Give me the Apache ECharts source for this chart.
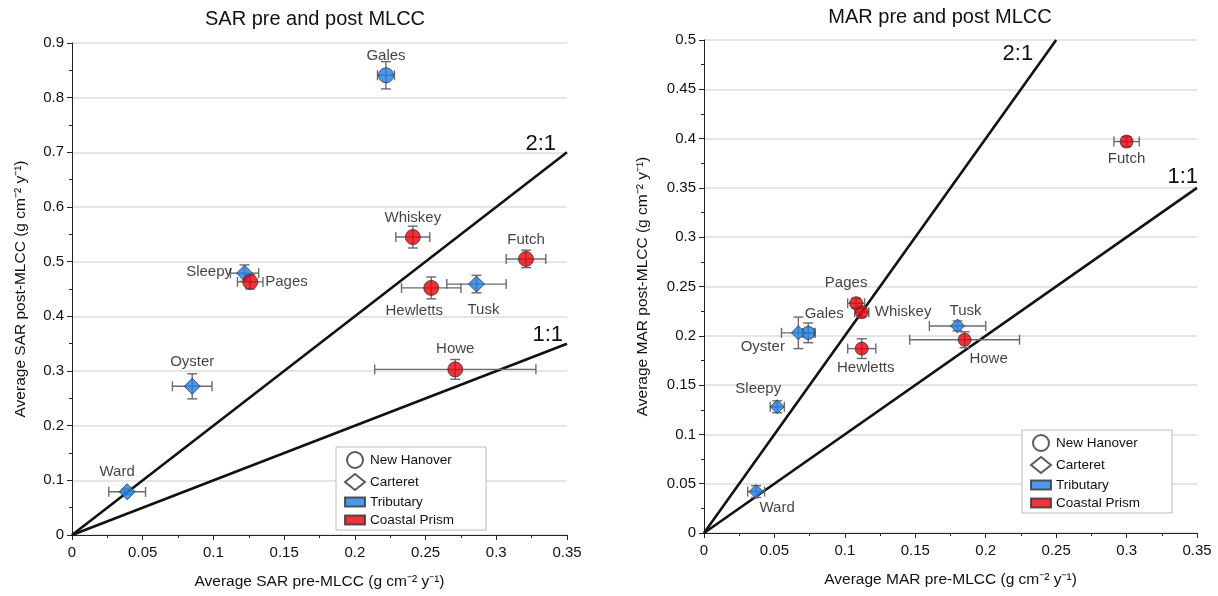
<!DOCTYPE html>
<html>
<head>
<meta charset="utf-8">
<script src="https://cdn.jsdelivr.net/npm/echarts@6/dist/echarts.min.js"></script>
<style>
  html, body { margin: 0; background: #fff; }
  #chart { width: 1218px; height: 596px; }
</style>
</head>
<body>
<div id="chart"></div>
<script>
// sites and their grouping
const sites = ['Gales', 'Whiskey', 'Futch', 'Hewletts', 'Tusk', 'Sleepy', 'Pages', 'Oyster', 'Howe', 'Ward'];
const county = ['New Hanover', 'New Hanover', 'New Hanover', 'New Hanover', 'Carteret', 'Carteret', 'New Hanover', 'Carteret', 'New Hanover', 'Carteret'];
const zone = ['Tributary', 'Coastal Prism', 'Coastal Prism', 'Coastal Prism', 'Tributary', 'Tributary', 'Coastal Prism', 'Tributary', 'Coastal Prism', 'Tributary'];

// SAR (left panel)
const sarPre = [0.222, 0.241, 0.321, 0.254, 0.286, 0.122, 0.126, 0.085, 0.271, 0.039];
const sarPreErr = [0.006, 0.012, 0.014, 0.021, 0.021, 0.010, 0.009, 0.014, 0.057, 0.013];
const sarPost = [0.841, 0.545, 0.505, 0.452, 0.459, 0.479, 0.463, 0.272, 0.303, 0.079];
const sarPostErr = [0.025, 0.020, 0.016, 0.020, 0.016, 0.015, 0.013, 0.023, 0.018, 0.005];

// MAR (right panel)
const marPre = [0.074, 0.112, 0.300, 0.112, 0.180, 0.052, 0.108, 0.067, 0.185, 0.037];
const marPreErr = [0.004, 0.005, 0.009, 0.010, 0.020, 0.005, 0.006, 0.012, 0.039, 0.006];
const marPost = [0.203, 0.224, 0.397, 0.187, 0.210, 0.128, 0.233, 0.203, 0.196, 0.042];
const marPostErr = [0.010, 0.005, 0.005, 0.010, 0.005, 0.006, 0.005, 0.016, 0.008, 0.006];

// reference ratio lines y = k * x
const ratioNames = ['2:1', '1:1'];
const ratioSlopes = [2, 1];
const sarLineEnds = [0.35, 0.35];
const marLineEnds = [0.25, 0.35];

const FONT = 'Liberation Sans, Arial, sans-serif';
const INK = '#111';
const BLUE = '#1f7fe6';
const RED = '#e8000b';

// label placement per site, [position, offset]
const sarLabelPos = {
  Gales: ['top', [0, 0]], Whiskey: ['top', [0, 0]], Futch: ['top', [0, 0]],
  Hewletts: ['bottom', [-17, 3]], Tusk: ['bottom', [7, 6]], Sleepy: ['left', [0, -1]],
  Pages: ['right', [3, 0]], Oyster: ['top', [0, -4]], Howe: ['top', [0, -1]], Ward: ['top', [-10, 0]]
};
const marLabelPos = {
  Gales: ['top', [16, 0]], Whiskey: ['right', [2, 0]], Futch: ['bottom', [0, -1]],
  Hewletts: ['bottom', [4, 1]], Tusk: ['top', [8, 4]], Sleepy: ['top', [-19, 1]],
  Pages: ['top', [-10, -2]], Oyster: ['left', [-2, 14]], Howe: ['bottom', [24, 1]], Ward: ['bottom', [21, -3]]
};

function pointSeries(pre, post, labelPos, idx, size) {
  return {
    type: 'scatter', name: 'pts' + idx, xAxisIndex: idx, yAxisIndex: idx, z: 5,
    data: sites.map((s, i) => ({
      name: s,
      value: [pre[i], post[i]],
      symbol: county[i] === 'Carteret' ? 'diamond' : 'circle',
      symbolSize: county[i] === 'Carteret' ? size + 1 : size,
      itemStyle: { color: zone[i] === 'Tributary' ? BLUE : RED, borderColor: '#333', borderWidth: 1 },
      label: { position: labelPos[s][0], offset: labelPos[s][1] }
    })),
    label: { show: true, formatter: '{b}', fontFamily: FONT, fontSize: 15, color: INK, distance: 4 },
    emphasis: { disabled: true }
  };
}

function errorSeries(pre, preErr, post, postErr, idx) {
  return {
    type: 'custom', xAxisIndex: idx, yAxisIndex: idx, z: 3, silent: true,
    encode: { x: 0, y: 1 },
    data: sites.map((s, i) => [pre[i], post[i], preErr[i], postErr[i]]),
    renderItem: function (params, api) {
      const x = api.value(0), y = api.value(1), ex = api.value(2), ey = api.value(3);
      const l = api.coord([x - ex, y]), r = api.coord([x + ex, y]);
      const t = api.coord([x, y + ey]), b = api.coord([x, y - ey]);
      const cap = 5;
      const style = { stroke: '#6b6b6b', lineWidth: 1.4 };
      const seg = (x1, y1, x2, y2) => ({ type: 'line', shape: { x1, y1, x2, y2 }, style });
      return {
        type: 'group',
        children: [
          seg(l[0], l[1], r[0], r[1]),
          seg(l[0], l[1] - cap, l[0], l[1] + cap),
          seg(r[0], r[1] - cap, r[0], r[1] + cap),
          seg(t[0], t[1], b[0], b[1]),
          seg(t[0] - cap, t[1], t[0] + cap, t[1]),
          seg(b[0] - cap, b[1], b[0] + cap, b[1])
        ]
      };
    }
  };
}

function ratioSeries(k, end, name, idx, lab) {
  return {
    type: 'line', xAxisIndex: idx, yAxisIndex: idx, z: 2, silent: true,
    symbol: 'none', lineStyle: { color: INK, width: 2.6 },
    data: [[0, 0], [end, k * end]],
    endLabel: {
      show: true, formatter: name, fontFamily: FONT, fontSize: 22, color: INK,
      align: lab.align, verticalAlign: lab.v, offset: lab.off
    }
  };
}

const sarRatioLabels = [
  { align: 'right', v: 'bottom', off: [-19, 3] },
  { align: 'right', v: 'bottom', off: [-12, 2] }
];
const marRatioLabels = [
  { align: 'right', v: 'top', off: [-31, 3] },
  { align: 'right', v: 'bottom', off: [-7, 0] }
];

function xAxis(idx, title) {
  return {
    type: 'value', gridIndex: idx, min: 0, max: 0.35, interval: 0.05,
    name: title, nameLocation: 'middle', nameGap: 39,
    nameTextStyle: { fontFamily: FONT, fontSize: 15.5, color: INK },
    axisLine: { show: true, lineStyle: { color: '#222' } },
    axisTick: { show: true, length: 5, lineStyle: { color: '#222' } },
    minorTick: { show: true, splitNumber: 2, length: 3, lineStyle: { color: '#222' } },
    axisLabel: { fontFamily: FONT, fontSize: 15, color: INK, margin: 10 },
    splitLine: { show: false }
  };
}

function yAxis(idx, title, max, interval, gap) {
  return {
    type: 'value', gridIndex: idx, min: 0, max: max, interval: interval,
    name: title, nameLocation: 'middle', nameGap: gap,
    nameTextStyle: { fontFamily: FONT, fontSize: 15.5, color: INK },
    axisLine: { show: true, lineStyle: { color: '#222' } },
    axisTick: { show: true, length: 5, lineStyle: { color: '#222' } },
    minorTick: { show: true, splitNumber: 2, length: 3, lineStyle: { color: '#222' } },
    axisLabel: { fontFamily: FONT, fontSize: 15, color: INK, margin: 8 },
    splitLine: { show: true, lineStyle: { color: '#dcdcdc', width: 1.5 } }
  };
}

function legend(left, top) {
  return {
    left: left, top: top, orient: 'vertical', itemGap: 4, itemWidth: 20, itemHeight: 16,
    padding: [4, 32, 3, 8], backgroundColor: '#fff', borderColor: '#bbb', borderWidth: 1,
    selectedMode: false,
    textStyle: { fontFamily: FONT, fontSize: 13.5, color: INK },
    data: [
      { name: 'New Hanover', icon: 'circle' },
      { name: 'Carteret', icon: 'diamond' },
      { name: 'Tributary', icon: 'path://M0,0h20v9h-20z' },
      { name: 'Coastal Prism', icon: 'path://M0,0h20v9h-20z' }
    ]
  };
}

const legendSeries = [
  { name: 'New Hanover', color: '#fff' },
  { name: 'Carteret', color: '#fff' },
  { name: 'Tributary', color: BLUE },
  { name: 'Coastal Prism', color: RED }
].map(d => ({
  type: 'scatter', name: d.name, data: [], xAxisIndex: 0, yAxisIndex: 0,
  itemStyle: { color: d.color, borderColor: '#333', borderWidth: 1 }
}));

const chart = echarts.init(document.getElementById('chart'), null, { renderer: 'canvas' });
chart.setOption({
  animation: false,
  backgroundColor: '#fff',
  title: [
    { text: 'SAR pre and post MLCC', left: 310, top: 4, textAlign: 'center',
      textStyle: { fontFamily: FONT, fontSize: 20, fontWeight: 'normal', color: INK } },
    { text: 'MAR pre and post MLCC', left: 935, top: 2, textAlign: 'center',
      textStyle: { fontFamily: FONT, fontSize: 20, fontWeight: 'normal', color: INK } }
  ],
  grid: [
    { left: 72, right: 651, top: 43, bottom: 61 },
    { left: 704, right: 21, top: 40, bottom: 63 }
  ],
  legend: [legend(336, 447), legend(1022, 430)],
  xAxis: [
    xAxis(0, 'Average SAR pre-MLCC (g cm⁻² y⁻¹)'),
    xAxis(1, 'Average MAR pre-MLCC (g cm⁻² y⁻¹)')
  ],
  yAxis: [
    yAxis(0, 'Average SAR post-MLCC (g cm⁻² y⁻¹)', 0.9, 0.1, 43),
    yAxis(1, 'Average MAR post-MLCC (g cm⁻² y⁻¹)', 0.5, 0.05, 53)
  ],
  series: [
    ...ratioSlopes.map((k, i) => ratioSeries(k, sarLineEnds[i], ratioNames[i], 0, sarRatioLabels[i])),
    ...ratioSlopes.map((k, i) => ratioSeries(k, marLineEnds[i], ratioNames[i], 1, marRatioLabels[i])),
    errorSeries(sarPre, sarPreErr, sarPost, sarPostErr, 0),
    errorSeries(marPre, marPreErr, marPost, marPostErr, 1),
    pointSeries(sarPre, sarPost, sarLabelPos, 0, 15),
    pointSeries(marPre, marPost, marLabelPos, 1, 13),
    ...legendSeries
  ]
});
</script>
</body>
</html>
